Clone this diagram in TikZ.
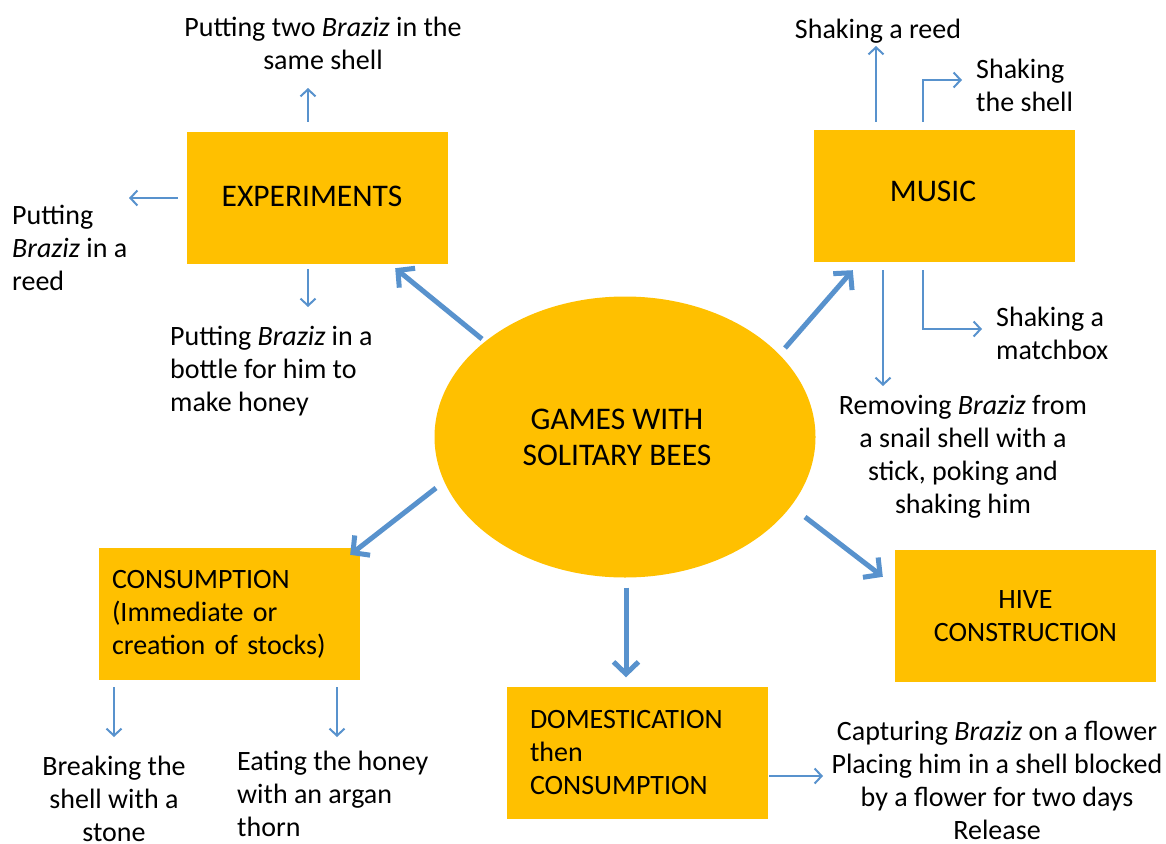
\documentclass[tikz,border=0pt]{standalone}
\usepackage{fontspec}
\setmainfont{Carlito}
\usetikzlibrary{shapes.geometric,arrows.meta}
\definecolor{boxgold}{RGB}{255,192,0}
\definecolor{arrblue}{RGB}{88,146,205}
\tikzset{
  box/.style={rectangle, fill=boxgold, minimum width=261pt, minimum height=132pt, inner sep=0pt, font=\fontsize{28}{33}\selectfont},
  leftbox/.style={box, text width=215pt, align=left},
  leaf/.style={inner sep=0pt, font=\fontsize{28}{33}\selectfont},
  bigtext/.style={inner sep=0pt, font=\fontsize{31.5}{36}\selectfont},
  thinarr/.style={draw=arrblue, line width=2pt, -{Straight Barb[length=7pt,width=15pt]}},
  bigarr/.style={draw=arrblue, line width=5pt, -{Straight Barb[length=12pt,width=25pt]}},
}
\begin{document}
\begin{tikzpicture}[x=1pt,y=-1pt]
\useasboundingbox (0,0) rectangle (1166,843);
% central ellipse
\node[ellipse, fill=boxgold, minimum width=381pt, minimum height=281pt, inner sep=0pt] (ell) at (625,437) {};
\node[bigtext, align=center] (elltext) at (617,437) {GAMES WITH\\SOLITARY BEES};
% boxes
\node[box] (exp) at (317.5,198) {};
\node[bigtext] (exptext) at (312,196) {EXPERIMENTS};
\node[box] (mus) at (944.5,196) {};
\node[bigtext] (mustext) at (933,191) {MUSIC};
\node[box, text width=235pt, align=left] (cons) at (229.5,614) {CONSUMPTION\\(Immediate or\\creation of stocks)};
\node[leftbox] (dom) at (637.5,752.5) {DOMESTICATION\\then\\CONSUMPTION};
\node[box, align=center] (hive) at (1025.5,616) {HIVE\\CONSTRUCTION};
% leaf texts
\node[leaf, align=center] (t1) at (323,43.5) {Putting two \textit{Braziz} in the\\same shell};
\node[leaf, align=left, anchor=west] (t2) at (12,247.5) {Putting\\\textit{Braziz} in a\\reed};
\node[leaf, align=left, anchor=west] (t3) at (170,371) {Putting \textit{Braziz} in a\\bottle for him to\\make honey};
\node[leaf] (m1) at (878,31) {Shaking a reed};
\node[leaf, align=left, anchor=west] (m2) at (976,85) {Shaking\\the shell};
\node[leaf, align=left, anchor=west] (m3) at (996,333) {Shaking a\\matchbox};
\node[leaf, align=center] (m4) at (963,457) {Removing \textit{Braziz} from\\a snail shell with a\\stick, poking and\\shaking him};
\node[leaf, align=center] (c1) at (114,799) {Breaking the\\shell with a\\stone};
\node[leaf, align=left, anchor=west] (c2) at (237,794) {Eating the honey\\with an argan\\thorn};
\node[leaf, align=center] (d1) at (997,780) {Capturing \textit{Braziz} on a flower\\Placing him in a shell blocked\\by a flower for two days\\Release};
% free ends of thin connectors
\coordinate (e1) at (308,88);
\coordinate (e2) at (129,198);
\coordinate (e3) at (308,307);
\coordinate (e4) at (876,46);
\coordinate (e5) at (962,80);
\coordinate (e6) at (883,386);
\coordinate (e7) at (982,329);
\coordinate (e8) at (114,737);
\coordinate (e9) at (337,737);
\coordinate (e10) at (823,776);
% thin connectors
\draw[thinarr] ([shift={(-9.5,-10)}]exp.north) -- (e1);
\draw[thinarr] ([shift={(-9,0)}]exp.west) -- (e2);
\draw[thinarr] ([shift={(-9.5,5)}]exp.south) -- (e3);
\draw[thinarr] ([shift={(-68.5,-8)}]mus.north) -- (e4);
\draw[thinarr] ([shift={(-21.5,-8)}]mus.north) |- (e5);
\draw[thinarr] ([shift={(-61.5,8)}]mus.south) -- (e6);
\draw[thinarr] ([shift={(-21.5,8)}]mus.south) |- (e7);
\draw[thinarr] ([shift={(-115.5,7)}]cons.south) -- (e8);
\draw[thinarr] ([shift={(107.5,7)}]cons.south) -- (e9);
\draw[thinarr] ([shift={(1,23.5)}]dom.east) -- (e10);
% thick connectors
\draw[bigarr] ([shift={(-143,-98)}]ell.center) -- ([shift={(-53,4)}]exp.south east);
\draw[bigarr] ([shift={(160,-89)}]ell.center) -- ([shift={(39,8)}]mus.south west);
\draw[bigarr] ([shift={(-189,51)}]ell.center) -- ([shift={(-10,7)}]cons.north east);
\draw[bigarr] ([shift={(1,10)}]ell.south) -- ([shift={(-11.5,-9)}]dom.north);
\draw[bigarr] ([shift={(180,80)}]ell.center) -- ([shift={(-12,27)}]hive.north west);
\end{tikzpicture}
\end{document}
